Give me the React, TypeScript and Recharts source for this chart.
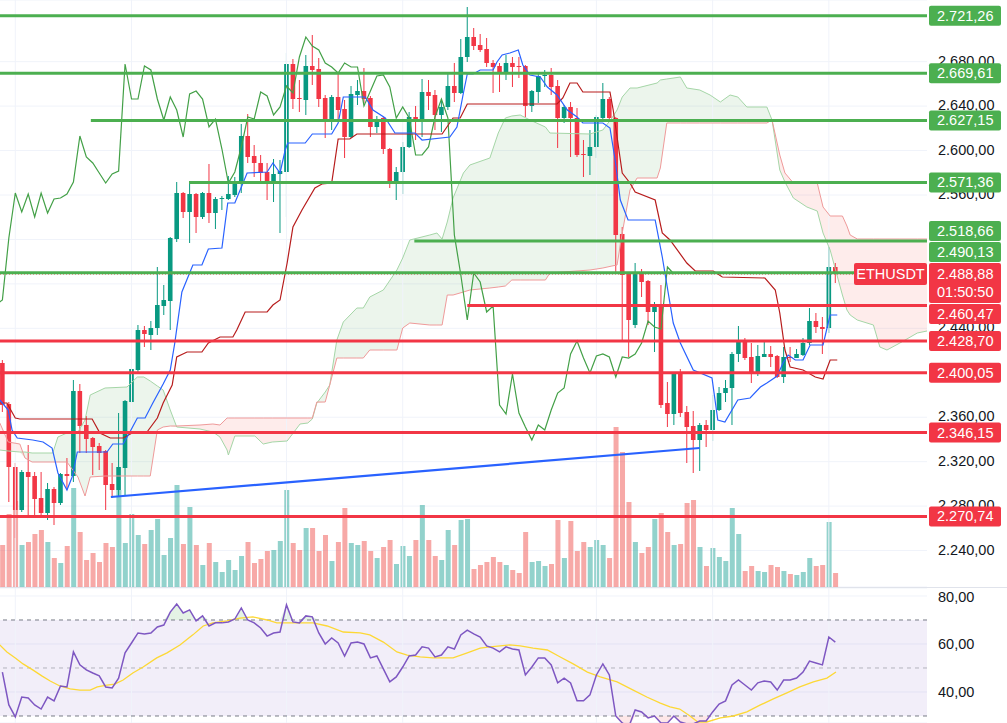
import React from "react";
import {
  ComposedChart,
  Bar,
  Line,
  Area,
  XAxis,
  YAxis,
  CartesianGrid,
  ReferenceLine,
  ReferenceArea,
  Cell,
} from "recharts";

const FONT = "'Liberation Sans', Arial, sans-serif";
const W = 1007;
const MAIN_H = 587;
const RSI_TOP = 588;
const RSI_H = 135;
const AXIS_W = 80;
const AXIS_TEXT_X = 938;
const TAG_X = 929;
const BODY_W = 4.6;

const UP = "#089981";
const DOWN = "#f23645";
const LVL_GREEN = "#4caf50";

const X_DOMAIN: [number, number] = [-0.37, 143.2];
const PRICE_DOMAIN: [number, number] = [2207.2, 2735.5];
const RSI_DOMAIN: [number, number] = [27.08, 83.33];
const VOL_MAX = 587;

const PRICE_TICKS = [2240, 2280, 2320, 2360, 2400, 2440, 2480, 2520, 2560, 2600, 2640, 2680];
const RSI_TICKS = [40, 60, 80];
const GRID_X = [2, 20, 44, 62, 92, 110, 128];

const SYMBOL = "ETHUSDT";
const COUNTDOWN = "01:50:50";
const LAST = 2488.88;

// [open, high, low, close]
const CANDLES: [number, number, number, number][] = [
  [2408.8, 2411.5, 2364.7, 2371.0],
  [2371.9, 2373.7, 2283.7, 2315.2],
  [2315.2, 2318.8, 2251.3, 2276.5],
  [2276.5, 2312.5, 2274.7, 2310.7],
  [2310.7, 2335.0, 2272.0, 2306.2],
  [2307.1, 2310.7, 2270.2, 2286.4],
  [2287.3, 2310.7, 2270.2, 2273.8],
  [2273.8, 2300.8, 2267.5, 2295.4],
  [2295.4, 2297.2, 2263.0, 2282.8],
  [2282.8, 2309.8, 2281.0, 2308.9],
  [2308.9, 2323.3, 2294.5, 2307.1],
  [2307.1, 2393.5, 2301.7, 2383.6],
  [2383.6, 2389.9, 2327.8, 2352.1],
  [2353.0, 2361.1, 2327.8, 2340.4],
  [2341.3, 2342.2, 2308.0, 2333.2],
  [2334.1, 2336.8, 2312.5, 2327.8],
  [2329.6, 2330.5, 2276.5, 2299.0],
  [2299.9, 2318.8, 2287.3, 2294.5],
  [2294.5, 2363.8, 2288.2, 2315.2],
  [2314.3, 2375.5, 2289.1, 2374.6],
  [2373.7, 2412.4, 2372.8, 2403.4],
  [2402.5, 2443.0, 2400.7, 2438.5],
  [2438.5, 2442.1, 2423.2, 2434.9],
  [2434.0, 2446.6, 2420.5, 2440.3],
  [2440.3, 2495.2, 2434.0, 2461.0],
  [2460.1, 2479.0, 2452.0, 2465.5],
  [2464.6, 2522.2, 2438.5, 2521.3],
  [2520.4, 2571.7, 2517.7, 2561.8],
  [2561.8, 2562.7, 2539.3, 2544.7],
  [2544.7, 2570.8, 2516.8, 2560.9],
  [2560.9, 2561.8, 2525.8, 2540.2],
  [2540.2, 2562.7, 2538.4, 2561.8],
  [2561.8, 2587.9, 2534.8, 2543.8],
  [2543.8, 2558.2, 2529.4, 2556.4],
  [2556.4, 2559.1, 2546.5, 2557.3],
  [2556.4, 2577.1, 2555.5, 2560.9],
  [2560.0, 2576.2, 2558.2, 2571.7],
  [2571.7, 2623.9, 2561.8, 2613.1],
  [2613.1, 2632.9, 2588.8, 2594.2],
  [2595.1, 2605.0, 2576.2, 2588.8],
  [2588.8, 2596.0, 2570.8, 2579.8],
  [2580.7, 2588.8, 2555.5, 2570.8],
  [2570.8, 2592.4, 2553.7, 2578.9],
  [2578.9, 2591.5, 2525.8, 2581.6],
  [2580.7, 2687.8, 2540.2, 2677.9],
  [2677.9, 2682.4, 2637.4, 2646.4],
  [2647.3, 2663.5, 2634.7, 2646.4],
  [2645.5, 2686.0, 2632.0, 2676.1],
  [2676.1, 2704.0, 2659.0, 2672.5],
  [2673.4, 2683.3, 2639.2, 2646.4],
  [2647.3, 2650.0, 2611.3, 2627.5],
  [2627.5, 2650.0, 2618.5, 2648.2],
  [2648.2, 2669.8, 2627.5, 2636.5],
  [2637.4, 2645.5, 2593.3, 2612.2],
  [2612.2, 2658.1, 2611.3, 2650.9],
  [2650.0, 2663.5, 2641.0, 2653.6],
  [2653.6, 2674.3, 2642.8, 2646.4],
  [2647.3, 2649.1, 2612.2, 2621.2],
  [2621.2, 2631.1, 2615.8, 2628.4],
  [2629.3, 2630.2, 2596.9, 2601.4],
  [2601.4, 2602.3, 2566.3, 2570.8],
  [2570.8, 2585.2, 2555.5, 2580.7],
  [2580.7, 2607.7, 2560.9, 2603.2],
  [2603.2, 2634.7, 2602.3, 2630.2],
  [2630.2, 2640.1, 2609.5, 2628.4],
  [2628.4, 2664.4, 2612.2, 2652.7],
  [2652.7, 2663.5, 2636.5, 2649.1],
  [2650.0, 2654.5, 2618.5, 2632.0],
  [2632.0, 2646.4, 2616.7, 2639.2],
  [2639.2, 2668.9, 2636.5, 2658.1],
  [2658.1, 2678.8, 2643.7, 2651.8],
  [2651.8, 2700.4, 2650.9, 2684.2],
  [2684.2, 2729.2, 2679.7, 2702.2],
  [2702.2, 2710.3, 2690.5, 2694.1],
  [2695.0, 2704.9, 2688.7, 2690.5],
  [2691.4, 2701.3, 2675.2, 2678.8],
  [2678.8, 2681.5, 2651.8, 2675.2],
  [2676.1, 2678.8, 2652.7, 2669.8],
  [2669.8, 2686.0, 2663.5, 2678.8],
  [2678.8, 2684.2, 2657.2, 2675.2],
  [2676.1, 2684.2, 2665.3, 2675.2],
  [2676.1, 2677.0, 2630.2, 2640.1],
  [2640.1, 2654.5, 2634.7, 2653.6],
  [2652.7, 2669.8, 2642.8, 2667.1],
  [2667.1, 2672.5, 2657.2, 2668.0],
  [2668.0, 2674.3, 2650.0, 2657.2],
  [2658.1, 2663.5, 2602.3, 2629.3],
  [2629.3, 2641.0, 2624.8, 2639.2],
  [2639.2, 2643.7, 2594.2, 2629.3],
  [2629.3, 2638.3, 2594.2, 2596.0],
  [2596.9, 2609.5, 2576.2, 2596.0],
  [2595.1, 2618.5, 2578.0, 2603.2],
  [2603.2, 2632.0, 2593.3, 2630.2],
  [2629.3, 2660.8, 2627.5, 2646.4],
  [2646.4, 2648.2, 2627.5, 2629.3],
  [2629.3, 2630.2, 2489.8, 2524.0],
  [2524.9, 2531.2, 2429.5, 2488.0],
  [2489.8, 2490.7, 2414.2, 2447.5],
  [2443.0, 2498.8, 2440.3, 2489.8],
  [2489.8, 2493.4, 2468.2, 2481.7],
  [2482.6, 2483.5, 2443.0, 2454.7],
  [2454.7, 2463.7, 2418.7, 2460.1],
  [2460.1, 2479.0, 2368.3, 2371.0],
  [2372.8, 2391.7, 2351.2, 2362.9],
  [2362.9, 2400.7, 2353.0, 2398.9],
  [2399.8, 2403.4, 2360.2, 2363.8],
  [2364.7, 2370.1, 2318.8, 2351.2],
  [2352.1, 2365.6, 2309.8, 2339.5],
  [2339.5, 2354.8, 2311.6, 2353.0],
  [2353.0, 2357.5, 2333.2, 2348.5],
  [2348.5, 2380.0, 2338.6, 2366.5],
  [2366.5, 2387.2, 2365.6, 2381.8],
  [2381.8, 2393.5, 2373.7, 2386.3],
  [2386.3, 2418.7, 2353.0, 2416.9],
  [2416.9, 2442.1, 2409.7, 2428.6],
  [2427.7, 2431.3, 2411.5, 2413.3],
  [2414.2, 2426.8, 2390.8, 2399.8],
  [2398.9, 2425.0, 2397.1, 2415.1],
  [2414.2, 2427.7, 2414.2, 2416.9],
  [2416.9, 2424.1, 2405.2, 2414.2],
  [2415.1, 2416.0, 2395.3, 2396.2],
  [2396.2, 2423.2, 2390.8, 2414.2],
  [2414.2, 2423.2, 2409.7, 2413.3],
  [2413.3, 2421.4, 2413.3, 2416.9],
  [2416.0, 2431.3, 2415.1, 2426.8],
  [2426.8, 2458.3, 2425.0, 2446.6],
  [2446.6, 2453.8, 2435.8, 2441.2],
  [2441.2, 2450.2, 2416.9, 2439.4],
  [2440.3, 2513.2, 2435.8, 2495.2],
  [2495.2, 2498.8, 2480.8, 2488.88],
];

const VOLUME = [
  42, 73, 86, 42, 45, 53, 57, 45, 29, 24,
  41, 99, 55, 27, 34, 25, 44, 40, 97, 44,
  73, 52, 43, 57, 68, 32, 49, 102, 43, 80,
  42, 22, 44, 25, 15, 27, 17, 31, 45, 24,
  28, 36, 37, 46, 97, 44, 37, 59, 59, 36,
  52, 26, 45, 79, 44, 42, 46, 36, 29, 40,
  47, 23, 41, 31, 47, 82, 47, 31, 27, 57,
  42, 67, 68, 18, 22, 25, 30, 25, 22, 17,
  14, 55, 25, 26, 21, 23, 67, 29, 66, 36,
  45, 40, 47, 42, 29, 160, 135, 85, 45, 34,
  40, 68, 74, 55, 42, 43, 84, 87, 40, 21,
  39, 30, 26, 79, 53, 16, 21, 16, 15, 22,
  20, 16, 13, 12, 15, 29, 21, 22, 65, 14,
];

// [bar, value]
const TENKAN: [number, number][] = [
  [-0.4, 2375.5], [0.9, 2366.5], [1.5, 2348.5], [2.3, 2341.3], [4.7, 2339.5], [6.3, 2337.7],
  [7.7, 2332.3], [8.6, 2309.8], [10, 2294.5], [10.8, 2306.2], [11.6, 2328.7], [16.2, 2328.7],
  [17.1, 2335.9], [18.7, 2335.9], [19.5, 2344.0], [20.9, 2359.3], [22.1, 2359.3], [23.3, 2372.8],
  [24.9, 2389.9], [26, 2402.5], [26.7, 2426.8], [27.8, 2472.7], [29.5, 2497.0], [30.9, 2497.0],
  [31.9, 2511.4], [34, 2512.3], [34.9, 2552.8], [36, 2552.8], [37.9, 2579.8], [41, 2580.7],
  [41.9, 2588.8], [43, 2579.8], [43.8, 2600.5], [44.2, 2606.8], [46.9, 2606.8], [48, 2614.9],
  [51, 2614.9], [52, 2624.8], [52.8, 2648.2], [56.2, 2648.2], [57.4, 2636.5], [59.3, 2629.3],
  [60.8, 2615.8], [63.9, 2615.8], [65, 2609.5], [69.3, 2612.2], [70.4, 2621.2], [71.4, 2651.8],
  [72, 2668.9], [72.9, 2668.9], [74, 2672.5], [76, 2672.5], [76.6, 2679.7], [77.4, 2686.0],
  [78.6, 2687.8], [79.9, 2690.5], [80.6, 2677.0], [81.7, 2668.0], [83.3, 2666.2], [84.4, 2657.2],
  [85.9, 2650.0], [87.5, 2636.5], [89, 2630.2], [89.9, 2624.8], [93, 2624.8], [94.1, 2620.3],
  [94.9, 2591.5], [95.7, 2555.5], [96.9, 2537.5], [101.1, 2537.5], [102.2, 2504.2], [103.9, 2444.8],
  [105, 2426.8], [107, 2402.5], [109.9, 2395.3], [110.8, 2357.5], [111.9, 2355.7], [113.9, 2375.5],
  [115.8, 2377.3], [117.4, 2387.2], [118.4, 2390.8], [120, 2397.1], [120.9, 2408.8], [121.7, 2416.0],
  [122.8, 2411.5], [124, 2411.5], [125.1, 2425.0], [127.1, 2425.0], [127.9, 2444.8], [128.2, 2452.0],
  [129.3, 2452.0],
];

const KIJUN: [number, number][] = [
  [-0.4, 2372.8], [0.7, 2372.8], [2, 2359.3], [2.7, 2358.4], [13.9, 2358.4], [15.1, 2345.8],
  [16.7, 2341.3], [18.7, 2341.3], [20.1, 2345.8], [22.4, 2346.7], [24, 2359.3], [24.9, 2372.8],
  [26.3, 2389.0], [27, 2414.2], [28.6, 2418.7], [30.9, 2418.7], [31.9, 2426.8], [33.7, 2432.2],
  [35.7, 2432.2], [36.3, 2438.5], [37.6, 2454.7], [41, 2454.7], [41.9, 2461.0], [43, 2465.5],
  [44.1, 2498.8], [45, 2531.2], [46.4, 2546.5], [48.4, 2566.3], [49.5, 2569.9], [51, 2570.8],
  [52, 2610.4], [53.8, 2610.4], [54.9, 2614.9], [68.1, 2614.9], [69.8, 2629.3], [70.9, 2629.3],
  [72, 2641.9], [85.9, 2641.9], [86.8, 2647.3], [87.9, 2660.8], [89, 2660.8], [89.9, 2652.7],
  [94.1, 2652.7], [94.6, 2636.5], [96, 2579.8], [97.2, 2570.8], [98, 2562.7], [101.1, 2555.5],
  [102.2, 2525.8], [103.4, 2519.5], [106, 2498.8], [107.3, 2491.6], [110.1, 2491.6], [111.5, 2486.2],
  [118.1, 2485.3], [119.7, 2474.5], [120.4, 2453.8], [121.2, 2420.5], [122, 2405.2], [124, 2402.5],
  [125.9, 2396.2], [127.1, 2394.4], [128.2, 2411.5], [129.3, 2411.5],
];

// [bar, senkou A, senkou B]
const CLOUD: [number, number, number][] = [
  [-0.4, 2330.5, 2354.8], [0.9, 2329.6, 2337.7], [2.7, 2328.7, 2335.9], [3.5, 2328.7, 2323.3],
  [4.6, 2327.8, 2319.7], [7.8, 2327.8, 2319.7], [8.6, 2342.2, 2319.7], [10, 2345.8, 2319.7],
  [11.7, 2346.7, 2306.2], [12.8, 2357.5, 2289.1], [13.6, 2380.0, 2306.2], [15.9, 2386.3, 2307.1],
  [19.3, 2387.2, 2307.1], [20.9, 2396.2, 2307.1], [21.9, 2396.2, 2307.1], [22.9, 2392.6, 2307.1],
  [24, 2388.1, 2348.5], [24.9, 2384.5, 2351.2], [26, 2366.5, 2352.1], [27, 2351.2, 2352.1],
  [30.6, 2349.4, 2353.0], [32.6, 2346.7, 2353.9], [33.7, 2342.2, 2353.0], [34.8, 2330.5, 2359.3],
  [35, 2326.0, 2359.3], [36, 2343.1, 2359.3], [39.1, 2343.1, 2359.3], [40.4, 2335.9, 2359.3],
  [41.8, 2337.7, 2359.3], [44.1, 2338.6, 2359.3], [46.1, 2353.9, 2359.3], [47.3, 2354.8, 2359.3],
  [48, 2358.4, 2359.3], [48.7, 2372.8, 2373.7], [50, 2382.7, 2373.7], [50.7, 2389.0, 2389.0],
  [51.8, 2429.5, 2413.3], [52.8, 2445.7, 2413.3], [54.9, 2458.3, 2413.3], [55.9, 2458.3, 2413.3],
  [56.9, 2468.2, 2420.5], [59, 2474.5, 2420.5], [61.1, 2492.5, 2420.5], [62, 2503.3, 2440.3],
  [63.1, 2519.5, 2444.8], [66.2, 2524.0, 2443.0], [67.3, 2525.8, 2443.0], [68.1, 2520.4, 2443.0],
  [68.9, 2535.7, 2470.0], [69.8, 2557.3, 2470.0], [71.4, 2579.8, 2472.7], [72.4, 2587.0, 2474.5],
  [75.5, 2593.3, 2476.3], [76.8, 2615.8, 2477.2], [77.9, 2629.3, 2478.1], [78.9, 2631.1, 2483.5],
  [80.2, 2632.0, 2483.5], [81.7, 2627.5, 2483.5], [84.1, 2621.2, 2483.5], [84.8, 2615.8, 2489.8],
  [91, 2614.9, 2492.5], [93, 2618.5, 2494.3], [94.4, 2629.3, 2496.1], [95.2, 2636.5, 2497.0],
  [96, 2648.2, 2525.8], [97.2, 2656.3, 2564.5], [98.3, 2656.3, 2575.3], [101.4, 2660.8, 2575.3],
  [101.9, 2663.5, 2584.3], [102.9, 2664.4, 2624.8], [105, 2666.2, 2624.8], [106, 2656.3, 2624.8],
  [108, 2654.5, 2624.8], [109.6, 2650.0, 2624.8], [111.2, 2643.7, 2624.8], [112.7, 2650.0, 2624.8],
  [113.9, 2648.2, 2624.8], [115.3, 2639.2, 2624.8], [118.4, 2639.2, 2624.8], [119.2, 2627.5, 2627.5],
  [120.4, 2582.5, 2596.0], [121.2, 2571.7, 2579.8], [122.5, 2557.3, 2570.8], [124.6, 2549.2, 2570.8],
  [126.2, 2545.6, 2570.8], [127.1, 2525.8, 2549.2], [128.2, 2510.5, 2541.1], [130.1, 2470.0, 2541.1],
  [130.8, 2456.5, 2532.1], [131.3, 2452.0, 2524.0], [132.4, 2447.5, 2520.4], [134.9, 2443.0, 2520.4],
  [135.9, 2423.2, 2520.4], [137, 2420.5, 2520.4], [139, 2426.8, 2520.4], [141.7, 2435.8, 2520.4],
  [143.2, 2437.6, 2520.4],
];

const CHIKOU_SHIFT = 25;

const TREND: [number, number][] = [
  [16.8, 2288.2],
  [108, 2332.3],
];

const LEVEL_PRICES = [2721.26, 2669.61, 2627.15, 2571.36, 2518.66, 2490.13, 2460.47, 2428.7, 2400.05, 2346.15, 2270.74];
const LEVEL_FROM = [-0.37, -0.37, 13.7, 28.9, 63.8, -0.37, 72, -0.37, -0.37, -0.37, -0.37];
const LEVEL_SUPPORT = [false, false, false, false, false, false, true, true, true, true, true];

const RSI = [
  48.3, 34.6, 29.6, 37.9, 37.5, 34.6, 32.9, 37.9, 36.3, 42.5,
  42.1, 56.7, 51.3, 49.2, 47.9, 46.7, 42.1, 41.7, 45.8, 56.3,
  60.4, 64.6, 64.2, 64.6, 67.1, 67.9, 73.3, 76.7, 72.9, 74.2,
  69.6, 71.7, 67.5, 68.8, 68.8, 69.2, 70.4, 75.0, 70.0, 68.8,
  66.7, 63.3, 64.6, 65.0, 76.3, 69.2, 68.8, 71.7, 71.3, 64.6,
  60.0, 62.5, 60.4, 55.0, 60.4, 60.8, 60.0, 54.2, 55.0, 49.6,
  44.2, 46.3, 50.4, 55.0, 55.4, 58.8, 58.3, 54.6, 55.4, 58.8,
  57.9, 63.8, 65.8, 64.2, 62.9, 59.2, 58.3, 56.7, 58.8, 57.9,
  57.5, 47.1, 50.4, 54.2, 54.2, 51.3, 43.8, 45.8, 43.8, 36.3,
  36.3, 38.8, 47.1, 51.7, 47.1, 30.0, 27.1, 25.4, 32.5, 31.7,
  29.2, 30.0, 27.1, 27.1, 30.0, 27.5, 26.7, 26.7, 27.9, 27.9,
  31.7, 35.0, 36.3, 42.9, 45.0, 42.9, 40.8, 43.8, 44.6, 44.2,
  40.8, 45.0, 45.0, 45.8, 48.3, 52.9, 52.1, 51.3, 62.9, 60.8,
];

const RSI_MA: [number, number][] = [
  [-0.4, 59.6], [0.7, 56.7], [2, 54.2], [3.2, 51.7], [4.7, 49.2], [6.1, 46.7], [7.4, 44.6],
  [8.9, 42.5], [10.5, 41.3], [12, 40.8], [13.6, 40.8], [14.7, 42.1], [16.2, 42.9], [17.4, 43.3],
  [18.7, 45.0], [20.2, 47.9], [21.8, 50.4], [23.9, 54.2], [25.5, 56.3], [27.5, 59.6], [29.5, 63.8],
  [31.1, 67.5], [32.6, 68.8], [34.8, 69.6], [36.8, 70.8], [38.8, 71.3], [41, 70.0], [42.5, 68.8],
  [44.1, 68.8], [46.1, 68.8], [48.1, 68.8], [50.3, 67.5], [52.8, 65.0], [55.4, 64.6], [56.9, 63.8],
  [59, 60.8], [61.1, 56.7], [62.7, 55.4], [64.7, 54.6], [66.7, 54.2], [69.8, 54.2], [72, 56.3],
  [74, 58.3], [75.5, 58.8], [77.1, 59.2], [78.6, 59.6], [80.2, 59.2], [82.2, 58.3], [84.4, 57.5],
  [86.4, 54.6], [88.4, 51.7], [90.6, 48.3], [92.6, 46.3], [95.2, 44.2], [97.7, 40.8], [99.8, 37.9],
  [101.9, 35.4], [103.4, 33.8], [104.9, 32.9], [106.5, 30.0], [107.7, 27.5], [109.1, 27.5],
  [111.2, 29.2], [113.2, 30.0], [115.3, 31.7], [117.4, 34.6], [119.4, 37.1], [121.5, 39.6],
  [123.5, 42.1], [125.6, 44.2], [127.7, 45.8], [129.1, 48.3],
];

// ---- derived tables ----
const rows = CANDLES.map(([o, h, l, c], i) => ({ i, o, h, l, c, range: [l, h], v: VOLUME[i] }));
const pairs = (list: [number, number][]) => list.map(([i, v]) => ({ i, v }));
const tenkanRows = pairs(TENKAN);
const kijunRows = pairs(KIJUN);
const trendRows = pairs(TREND);
const chikouRows = CANDLES.map((c, i) => ({ i: i - CHIKOU_SHIFT, v: c[3] })).filter((r) => r.i >= -1);
const cloudRows = CLOUD.map(([i, a, b]) => ({
  i,
  a,
  b,
  g: [Math.min(a, b), a],
  r: [Math.min(a, b), b],
}));
const rsiRows = RSI.map((r, i) => ({
  i,
  r,
  ob: [70, Math.max(70, r)],
  os: [Math.min(30, r), 30],
}));
const maRows = pairs(RSI_MA);

function fmt(n: number) {
  const [int, dec] = n.toFixed(2).split(".");
  return int.replace(/\B(?=(\d{3})+(?!\d))/g, ".") + "," + dec;
}

// label collision handling (tags slide away from the last-price tag)
const TAG_H = 20;
const pxPerUnit = MAIN_H / (PRICE_DOMAIN[1] - PRICE_DOMAIN[0]);
const toPx = (p: number) => (PRICE_DOMAIN[1] - p) * pxPerUnit;
const LAST_BOX: [number, number] = [toPx(LAST) - 11, toPx(LAST) + 29];
const TAG_SHIFT = (() => {
  const out = LEVEL_PRICES.map(() => 0);
  let limit = LAST_BOX[0] - 1;
  LEVEL_PRICES.map((p, k) => ({ p, k }))
    .filter((o) => o.p > LAST)
    .sort((a, b) => a.p - b.p)
    .forEach(({ p, k }) => {
      const y = toPx(p);
      const s = Math.min(0, limit - (y + TAG_H / 2));
      out[k] = s;
      limit = y + s - TAG_H / 2 - 1;
    });
  limit = LAST_BOX[1] + 1;
  LEVEL_PRICES.map((p, k) => ({ p, k }))
    .filter((o) => o.p < LAST)
    .sort((a, b) => b.p - a.p)
    .forEach(({ p, k }) => {
      const y = toPx(p);
      const s = Math.max(0, limit - (y - TAG_H / 2));
      out[k] = s;
      limit = y + s + TAG_H / 2 + 1;
    });
  return out;
})();
const TAG_BOXES: [number, number][] = [
  LAST_BOX,
  ...LEVEL_PRICES.map((p, k): [number, number] => [toPx(p) + TAG_SHIFT[k] - TAG_H / 2, toPx(p) + TAG_SHIFT[k] + TAG_H / 2]),
];
// an axis label that sits almost fully behind a tag is not drawn (it is hidden in the original)
const hiddenByTags = (y: number) => {
  const t = y - 6;
  const b = y + 5;
  let covered = 0;
  TAG_BOXES.forEach(([a, z]) => {
    covered += Math.max(0, Math.min(b, z) - Math.max(t, a));
  });
  return covered > (b - t) * 0.6;
};

function Candle(props: any) {
  const { x, y, width, height } = props;
  const d = props.payload ?? props;
  if (d == null || y == null || x == null) return null;
  const top = Math.min(y, y + height);
  const span = Math.abs(height);
  const px = (v: number) => top + ((d.h - v) / (d.h - d.l || 1)) * span;
  const cx = x + (width || 0) / 2;
  const color = d.c >= d.o ? UP : DOWN;
  const b1 = px(Math.max(d.o, d.c));
  const b2 = px(Math.min(d.o, d.c));
  return (
    <g>
      <line x1={cx} x2={cx} y1={top} y2={top + span} stroke={color} strokeWidth={1} />
      <rect x={cx - BODY_W / 2} y={b1} width={BODY_W} height={Math.max(1, b2 - b1)} fill={color} />
    </g>
  );
}

const priceTick = (p: any) =>
  hiddenByTags(p.y) ? (
    <g />
  ) : (
    <text x={AXIS_TEXT_X} y={p.y + 4} fill="#131722" fontSize={14.5} fontFamily={FONT}>
      {fmt(p.payload.value)}
    </text>
  );

const rsiTick = (p: any) => (
  <text x={AXIS_TEXT_X} y={p.y + 5} fill="#131722" fontSize={14.5} fontFamily={FONT}>
    {fmt(p.payload.value)}
  </text>
);

const levelTag = (k: number) => (lp: any) => {
  const vb = lp.viewBox || {};
  if (vb.y == null) return null;
  const cy = vb.y + TAG_SHIFT[k];
  return (
    <g>
      <rect x={TAG_X} y={cy - TAG_H / 2} width={72} height={TAG_H} rx={2} fill={LEVEL_SUPPORT[k] ? DOWN : LVL_GREEN} />
      <text x={TAG_X + 8} y={cy + 5} fill="#fff" fontSize={14.5} fontFamily={FONT}>
        {fmt(LEVEL_PRICES[k])}
      </text>
    </g>
  );
};

const lastTag = (lp: any) => {
  const vb = lp.viewBox || {};
  if (vb.y == null) return null;
  const cy = vb.y;
  return (
    <g>
      <rect x={854} y={cy - 11} width={73} height={22} rx={2} fill={DOWN} />
      <text x={890.5} y={cy + 5} textAnchor="middle" fill="#fff" fontSize={14.5} fontFamily={FONT}>
        {SYMBOL}
      </text>
      <rect x={TAG_X} y={cy - 11} width={72} height={40} rx={2} fill={DOWN} />
      <text x={TAG_X + 8} y={cy + 5} fill="#fff" fontSize={14.5} fontFamily={FONT}>
        {fmt(LAST)}
      </text>
      <text x={TAG_X + 8} y={cy + 23} fill="#fff" fontSize={14.5} fontFamily={FONT}>
        {COUNTDOWN}
      </text>
    </g>
  );
};

function MainPane() {
  return (
    <ComposedChart width={W} height={MAIN_H} data={rows} margin={{ top: 0, right: 0, bottom: 0, left: 0 }}>
      <CartesianGrid vertical={false} stroke="#f0f3fa" />
      <XAxis type="number" dataKey="i" domain={X_DOMAIN} hide allowDataOverflow />
      <XAxis xAxisId="vx" type="number" dataKey="i" domain={X_DOMAIN} hide allowDataOverflow />
      <YAxis
        orientation="right"
        width={AXIS_W}
        domain={PRICE_DOMAIN}
        ticks={PRICE_TICKS}
        allowDataOverflow
        axisLine={false}
        tickLine={false}
        tick={priceTick}
      />
      <YAxis yAxisId="vol" hide domain={[0, VOL_MAX]} allowDataOverflow />
      {GRID_X.map((g) => (
        <ReferenceLine key={"g" + g} x={g} stroke="#f0f3fa" />
      ))}
      <Bar xAxisId="vx" yAxisId="vol" dataKey="v" barSize={5} isAnimationActive={false}>
        {rows.map((r) => (
          <Cell key={r.i} fill={r.c >= r.o ? "rgba(38,166,154,0.5)" : "rgba(239,83,80,0.5)"} />
        ))}
      </Bar>
      <Area data={cloudRows} dataKey="g" type="linear" stroke="none" fill="#43a047" fillOpacity={0.1} isAnimationActive={false} />
      <Area data={cloudRows} dataKey="r" type="linear" stroke="none" fill="#f44336" fillOpacity={0.1} isAnimationActive={false} />
      <Line data={cloudRows} dataKey="a" type="linear" stroke="#a5d6a7" strokeWidth={1} dot={false} activeDot={false} isAnimationActive={false} />
      <Line data={cloudRows} dataKey="b" type="linear" stroke="#ef9a9a" strokeWidth={1} dot={false} activeDot={false} isAnimationActive={false} />
      <Line data={chikouRows} dataKey="v" type="linear" stroke="#43a047" strokeWidth={1.2} dot={false} activeDot={false} isAnimationActive={false} />
      <Line data={kijunRows} dataKey="v" type="linear" stroke="#b71c1c" strokeWidth={1.2} dot={false} activeDot={false} isAnimationActive={false} />
      <Line data={tenkanRows} dataKey="v" type="linear" stroke="#2962ff" strokeWidth={1.2} dot={false} activeDot={false} isAnimationActive={false} />
      <Bar dataKey="range" barSize={5} shape={(p: any) => <Candle {...p} />} isAnimationActive={false} />
      <Line data={trendRows} dataKey="v" type="linear" stroke="#2962ff" strokeWidth={2.2} dot={false} activeDot={false} isAnimationActive={false} />
    </ComposedChart>
  );
}

function OverlayPane() {
  return (
    <ComposedChart width={W} height={MAIN_H} data={rows} margin={{ top: 0, right: AXIS_W, bottom: 0, left: 0 }}>
      <XAxis type="number" dataKey="i" domain={X_DOMAIN} hide allowDataOverflow />
      <YAxis domain={PRICE_DOMAIN} hide allowDataOverflow />
      <Line dataKey="c" stroke="none" dot={false} activeDot={false} isAnimationActive={false} />
      <ReferenceLine y={LAST} stroke={DOWN} strokeWidth={1} strokeDasharray="1 2" />
      {LEVEL_PRICES.map((p, k) => (
        <Line
          key={"lv" + k}
          data={[
            { i: LEVEL_FROM[k], v: p },
            { i: X_DOMAIN[1], v: p },
          ]}
          dataKey="v"
          type="linear"
          stroke={LEVEL_SUPPORT[k] ? DOWN : LVL_GREEN}
          strokeWidth={3}
          dot={false}
          activeDot={false}
          isAnimationActive={false}
        />
      ))}
      {LEVEL_PRICES.map((p, k) => (
        <ReferenceLine key={"tag" + k} y={p} stroke="none" label={levelTag(k)} />
      ))}
      <ReferenceLine y={LAST} stroke="none" label={lastTag} />
    </ComposedChart>
  );
}

function RsiPane() {
  return (
    <ComposedChart width={W} height={RSI_H} data={rsiRows} margin={{ top: 0, right: 0, bottom: 0, left: 0 }}>
      <CartesianGrid vertical={false} stroke="#f0f3fa" />
      <XAxis type="number" dataKey="i" domain={X_DOMAIN} hide allowDataOverflow />
      <YAxis
        orientation="right"
        width={AXIS_W}
        domain={RSI_DOMAIN}
        ticks={RSI_TICKS}
        allowDataOverflow
        axisLine={false}
        tickLine={false}
        tick={rsiTick}
      />
      {GRID_X.map((g) => (
        <ReferenceLine key={"rg" + g} x={g} stroke="#f0f3fa" />
      ))}
      <ReferenceArea y1={30} y2={70} fill="#7e57c2" fillOpacity={0.1} stroke="none" />
      <ReferenceLine y={70} stroke="#787b86" strokeDasharray="4 4" />
      <ReferenceLine y={50} stroke="#787b86" strokeOpacity={0.5} strokeDasharray="4 4" />
      <ReferenceLine y={30} stroke="#787b86" strokeDasharray="4 4" />
      <Area dataKey="ob" type="linear" stroke="none" fill="#4caf50" fillOpacity={0.15} isAnimationActive={false} />
      <Area dataKey="os" type="linear" stroke="none" fill="#f23645" fillOpacity={0.12} isAnimationActive={false} />
      <Line data={maRows} dataKey="v" type="linear" stroke="#fdd835" strokeWidth={1.3} dot={false} activeDot={false} isAnimationActive={false} />
      <Line dataKey="r" type="linear" stroke="#7e57c2" strokeWidth={1.5} dot={false} activeDot={false} isAnimationActive={false} />
    </ComposedChart>
  );
}

export default function App() {
  return (
    <div
      style={{
        position: "absolute",
        left: 0,
        top: 0,
        width: W,
        height: 723,
        background: "#ffffff",
        overflow: "hidden",
        fontFamily: FONT,
      }}
    >
      <div style={{ position: "absolute", left: 0, top: 0 }}>
        <MainPane />
      </div>
      <div style={{ position: "absolute", left: 0, top: 0 }}>
        <OverlayPane />
      </div>
      <div style={{ position: "absolute", left: 0, top: MAIN_H, width: W, height: 1, background: "#e0e3eb" }} />
      <div style={{ position: "absolute", left: 0, top: RSI_TOP }}>
        <RsiPane />
      </div>
    </div>
  );
}
